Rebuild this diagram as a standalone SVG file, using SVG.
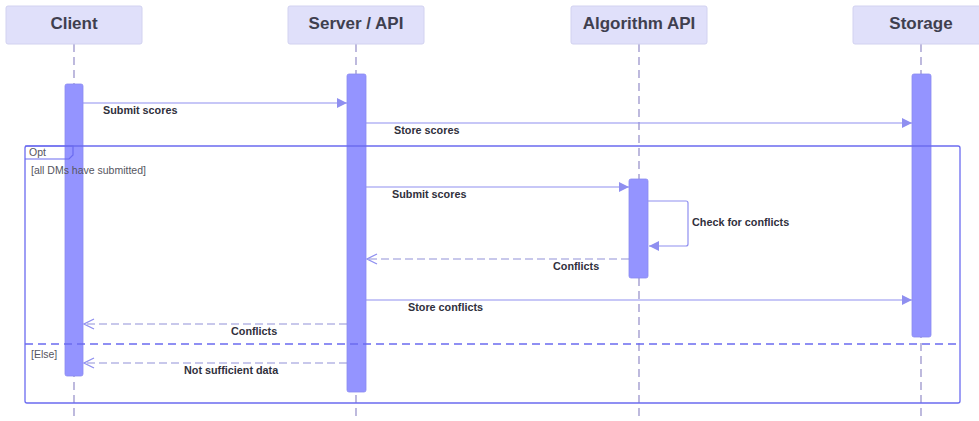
<svg xmlns="http://www.w3.org/2000/svg" width="979" height="421" viewBox="0 0 979 421">
  <defs>
    <style>
      .actor rect.box { fill: #e0e0fa; stroke: #d2d2f0; stroke-width: 1; }
      .actor text { font-family: "Liberation Sans", Arial, sans-serif; font-size: 17px; font-weight: bold; fill: #3f3f4f; text-anchor: middle; }
      .life { stroke: #9b95cc; stroke-width: 1.3; stroke-dasharray: 8 5; fill: none; }
      .actor rect.act { fill: #9494ff; stroke: #8b8bf0; stroke-width: 0.8; }
      .msg { stroke: #8f8ff0; stroke-width: 1.2; fill: none; }
      .dash { stroke-dasharray: 8 4; stroke: #9191d8; }
      .lbl { font-family: "Liberation Sans", Arial, sans-serif; font-size: 10.8px; font-weight: bold; fill: #30303c; }
      .frame { fill: none; stroke: #6b6bf0; stroke-width: 1.3; }
      .cond { font-family: "Liberation Sans", Arial, sans-serif; font-size: 10.5px; fill: #555560; }
    </style>
    <marker id="solidHead" viewBox="0 0 10 10" refX="10" refY="5" markerWidth="10" markerHeight="10" markerUnits="userSpaceOnUse" orient="auto">
      <path d="M0,0 L10,5 L0,10 z" fill="#8f8ff0"/>
    </marker>
    <marker id="openHead" viewBox="0 0 12 12" refX="11" refY="6" markerWidth="12" markerHeight="12" markerUnits="userSpaceOnUse" orient="auto">
      <path d="M1,1 L11,6 L1,11" fill="none" stroke="#8f8ff0" stroke-width="1.3"/>
    </marker>
  </defs>

  <rect width="979" height="421" fill="#ffffff"/>

  <!-- lifelines -->
  <g id="lifelines">
    <line class="life" x1="74" y1="44" x2="74" y2="421"/>
    <line class="life" x1="356" y1="44" x2="356" y2="421"/>
    <line class="life" x1="639" y1="44" x2="639" y2="421"/>
    <line class="life" x1="921" y1="44" x2="921" y2="421"/>
  </g>

  <!-- participants with their activation bars -->
  <g id="client" class="actor">
    <rect class="box" x="6" y="6" width="136" height="38" rx="2"/>
    <text x="74" y="29">Client</text>
    <rect class="act" x="65" y="84" width="18" height="292" rx="2"/>
  </g>
  <g id="server" class="actor">
    <rect class="box" x="288" y="6" width="136" height="38" rx="2"/>
    <text x="356" y="29">Server / API</text>
    <rect class="act" x="347" y="74" width="19" height="318" rx="2"/>
  </g>
  <g id="algorithm" class="actor">
    <rect class="box" x="571" y="6" width="136" height="38" rx="2"/>
    <text x="639" y="29">Algorithm API</text>
    <rect class="act" x="629" y="179" width="19" height="99" rx="2"/>
  </g>
  <g id="storage" class="actor">
    <rect class="box" x="853" y="6" width="136" height="38" rx="2"/>
    <text x="921" y="29">Storage</text>
    <rect class="act" x="912" y="74" width="19" height="263" rx="2"/>
  </g>

  <!-- opt / else frame, drawn over the bars -->
  <g id="opt-frame">
    <rect class="frame" x="25" y="146" width="935" height="257" rx="2"/>
    <path d="M25,146 H73 V155 L69,159 H25" fill="none" stroke="#6b6bf0" stroke-width="1.2"/>
    <text class="cond" x="29" y="156">Opt</text>
    <text class="cond" x="31" y="174">[all DMs have submitted]</text>
    <line class="frame" x1="25" y1="344" x2="960" y2="344" stroke-dasharray="8 5"/>
    <text class="cond" x="31" y="358">[Else]</text>
  </g>

  <!-- messages -->
  <g id="connectors">
    <line class="msg" x1="83" y1="103" x2="347" y2="103" marker-end="url(#solidHead)"/>
    <line class="msg" x1="366" y1="123" x2="912" y2="123" marker-end="url(#solidHead)"/>
    <line class="msg" x1="366" y1="187" x2="629" y2="187" marker-end="url(#solidHead)"/>
    <path class="msg" d="M648,201 H686 Q688,201 688,203 V244 Q688,246 686,246 H649" marker-end="url(#solidHead)"/>
    <line class="msg dash" x1="629" y1="259" x2="367" y2="259" marker-end="url(#openHead)"/>
    <line class="msg" x1="366" y1="300" x2="912" y2="300" marker-end="url(#solidHead)"/>
    <line class="msg dash" x1="347" y1="324" x2="84" y2="324" marker-end="url(#openHead)"/>
    <line class="msg dash" x1="347" y1="363" x2="84" y2="363" marker-end="url(#openHead)"/>
  </g>

  <!-- message labels -->
  <g id="labels">
    <text class="lbl" x="103" y="114">Submit scores</text>
    <text class="lbl" x="394" y="134">Store scores</text>
    <text class="lbl" x="392" y="198">Submit scores</text>
    <text class="lbl" x="692" y="226">Check for conflicts</text>
    <text class="lbl" x="553" y="270">Conflicts</text>
    <text class="lbl" x="408" y="311">Store conflicts</text>
    <text class="lbl" x="231" y="335">Conflicts</text>
    <text class="lbl" x="184" y="374">Not sufficient data</text>
  </g>
</svg>
